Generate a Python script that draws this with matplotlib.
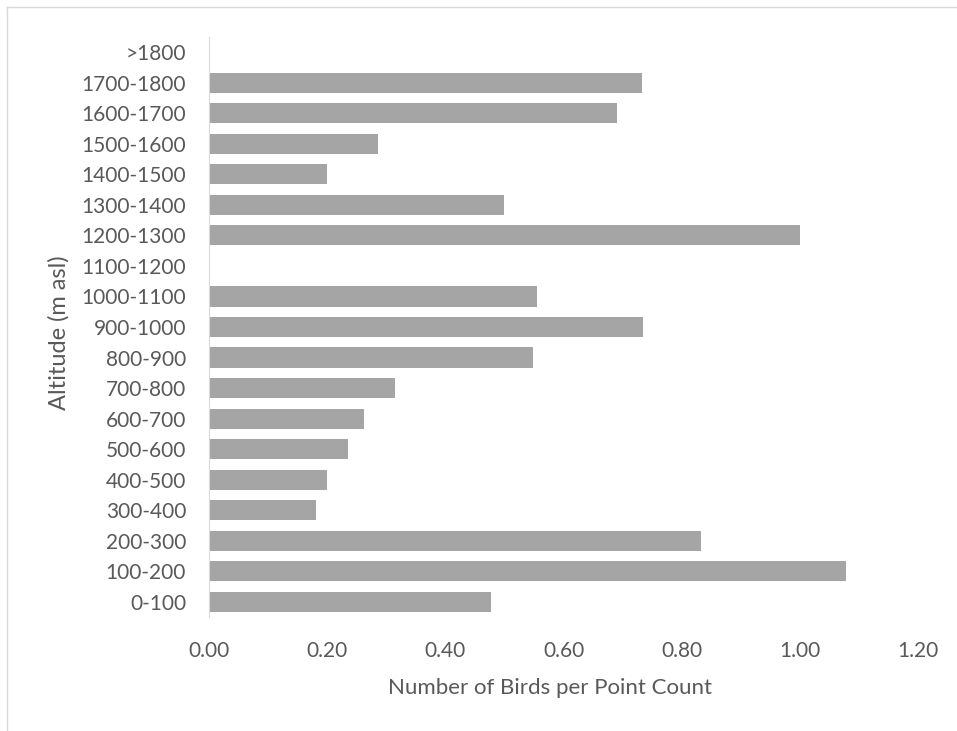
import matplotlib.pyplot as plt
from matplotlib.lines import Line2D

# altitude bands (m asl), bottom to top
altitudes = ['0-100', '100-200', '200-300', '300-400', '400-500', '500-600',
             '600-700', '700-800', '800-900', '900-1000', '1000-1100',
             '1100-1200', '1200-1300', '1300-1400', '1400-1500', '1500-1600',
             '1600-1700', '1700-1800', '>1800']

# birds per point count
birds = [0.477, 1.078, 0.833, 0.181, 0.200, 0.235, 0.263, 0.314, 0.548,
         0.734, 0.555, 0.0, 1.0, 0.5, 0.2, 0.286, 0.690, 0.733, 0.0]

xticks = [0.0, 0.2, 0.4, 0.6, 0.8, 1.0, 1.2]

plt.rcParams['font.family'] = ['Lato', 'DejaVu Sans']
txt = '#595959'

W, H = 957, 731
fig = plt.figure(figsize=(W/100, H/100), dpi=100)
ax = fig.add_axes([209/W, 1 - 617/H, (918 - 209)/W, (617 - 37)/H])

ax.barh(range(len(altitudes)), birds, height=0.66, color='#a5a5a5')

ax.set_xlim(0, 1.2)
ax.set_ylim(-0.5, len(altitudes) - 0.5)
ax.set_xticks(xticks)
ax.set_xticklabels(['%.2f' % v for v in xticks])
ax.set_yticks(range(len(altitudes)))
ax.set_yticklabels(altitudes)
ax.tick_params(length=0, labelsize=15, colors=txt)
ax.tick_params(axis='x', pad=17.5)
ax.tick_params(axis='y', pad=16.5)

for s in ['top', 'right', 'bottom']:
    ax.spines[s].set_visible(False)
ax.spines['left'].set_color('#d9d9d9')

ax.set_xlabel('Number of Birds per Point Count', fontsize=16, color=txt)
ax.set_ylabel('Altitude (m asl)', fontsize=17, color=txt)
ax.xaxis.set_label_coords(0.481, -0.1224)
ax.xaxis.label.set_va('center')
ax.yaxis.set_label_coords(-0.2116, 0.49)
ax.yaxis.label.set_va('center')

# chart-area border (only top and left edges show in the crop)
fig.lines.append(Line2D([7/W, 1], [1 - 7/H, 1 - 7/H], transform=fig.transFigure,
                        color='#d9d9d9', lw=1))
fig.lines.append(Line2D([7/W, 7/W], [0, 1 - 7/H], transform=fig.transFigure,
                        color='#d9d9d9', lw=1))

fig.savefig('out.png', dpi=100)
